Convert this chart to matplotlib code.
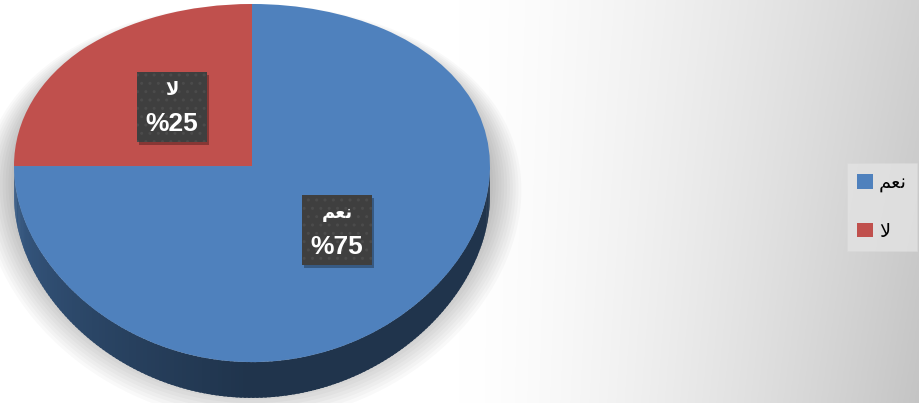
import numpy as np
import matplotlib.pyplot as plt
import matplotlib.transforms as mtransforms
from matplotlib.patches import Polygon, Rectangle, Patch

# data
labels = ['نعم', 'لا']
values = [75, 25]
colors = ['#4f81bd', '#c0504d']

# matplotlib does no Arabic shaping, so use presentation forms in visual order
shaped = {'نعم': '\ufee2\ufecc\ufee7', 'لا': '\ufefb'}

plt.rcParams['font.family'] = ['Liberation Sans', 'DejaVu Sans']

fig = plt.figure(figsize=(9.19, 4.03), dpi=100)

# background gradient (white on the left, grey to the right)
bg = fig.add_axes([0, 0, 1, 1])
px = np.linspace(0, 919, 460)
py = np.linspace(0, 403, 202)
PX, PY = np.meshgrid(px, py)
s = np.clip((PX - 460) / 459, 0, 1) ** 1.4
amp = 0.18 + 0.05 * PY / 403
g = 1 - amp * s
bg.imshow(np.dstack([g, g, g]), extent=[0, 919, 403, 0], aspect='auto')
bg.axis('off')

ax = fig.add_axes([0, 0, 1, 1])
ax.patch.set_visible(False)

wedges, _ = ax.pie(values, colors=colors, startangle=90, counterclock=False,
                   wedgeprops=dict(linewidth=0))

# tilt: a projective-like y scale gives the near half more height
c = 0.095
ax.set_aspect('auto')
ax.set_yscale('function', functions=(lambda y: y / (1 + c * y),
                                     lambda f: f / (1 - c * f)))
ax.set_xlim(-1.0588, 2.8025)
ax.set_ylim(-1.185, 1.027)
ax.axis('off')

depth = 0.162

# soft shadow under the pie
th = np.linspace(0, 2 * np.pi, 200)
for k in range(12):
    r = 1.0 + 0.012 * k
    shadow = Polygon(np.column_stack([r * np.cos(th), r * np.sin(th) - 0.09 - 0.004 * k]),
                     closed=True, facecolor='black', edgecolor='none',
                     alpha=0.025, zorder=0)
    ax.add_patch(shadow)

# side of the pie (front half only)
def wedge_at(a):
    for w in wedges:
        t1, t2 = w.theta1, w.theta2
        if (a - t1) % 360 <= (t2 - t1):
            return w
    return wedges[0]

angles = np.arange(180, 360.5, 1.0)
for a0, a1 in zip(angles[:-1], angles[1:]):
    w = wedge_at((a0 + a1) / 2)
    base = np.array(w.get_facecolor()[:3])
    t = min(1, ((a0 + a1) / 2 - 180) / 90) ** 0.8
    shade = base * (0.75 - 0.35 * t)
    aa = np.radians(np.linspace(a0, a1 + 0.6, 4))
    top = np.column_stack([np.cos(aa), np.sin(aa)])
    bot = top[::-1] - [0, depth]
    ax.add_patch(Polygon(np.vstack([top, bot]), closed=True, facecolor=shade,
                         edgecolor='none', zorder=1))

for w in wedges:
    w.set_zorder(2)

# data labels in dark boxes
for w, lab, v in zip(wedges, labels, values):
    mid = np.radians((w.theta1 + w.theta2) / 2)
    x, y = 0.49 * np.cos(mid) + 0.01, 0.49 * np.sin(mid)
    trans = fig.dpi_scale_trans + mtransforms.ScaledTranslation(x, y, ax.transData)
    shadow = Rectangle((-0.33, -0.38), 0.7, 0.7, transform=trans, facecolor='black',
                       edgecolor='none', alpha=0.3, zorder=4)
    ax.add_patch(shadow)
    box = Rectangle((-0.35, -0.35), 0.7, 0.7, transform=trans, facecolor='#3f3f3f',
                    edgecolor='#4b4b4b', hatch='..', linewidth=0, zorder=5)
    ax.add_patch(box)
    ax.text(0, 0.17, shaped[lab], transform=trans, ha='center', va='center',
            fontsize=13, fontweight='bold', color='white', zorder=6,
            family=['DejaVu Sans'])
    ax.text(0, -0.17, '%' + str(v), transform=trans, ha='center', va='center',
            fontsize=19, fontweight='bold', color='white', zorder=6,
            family=['Liberation Sans'])

handles = [Patch(facecolor=col, edgecolor='none') for col in colors]
leg = fig.legend(handles, [shaped[l] for l in labels], loc='center',
                 bbox_to_anchor=(882 / 919, 1 - 207 / 403), frameon=True,
                 fancybox=False, facecolor='#e3e3e3', edgecolor='#d8d8d8',
                 handlelength=0.8, handleheight=0.8,
                 handletextpad=0.3, labelspacing=1.5, borderpad=0.55,
                 borderaxespad=0, prop={'family': ['DejaVu Sans'], 'size': 14})
leg.get_frame().set_linewidth(0.5)

fig.savefig('out.png', dpi=100)
